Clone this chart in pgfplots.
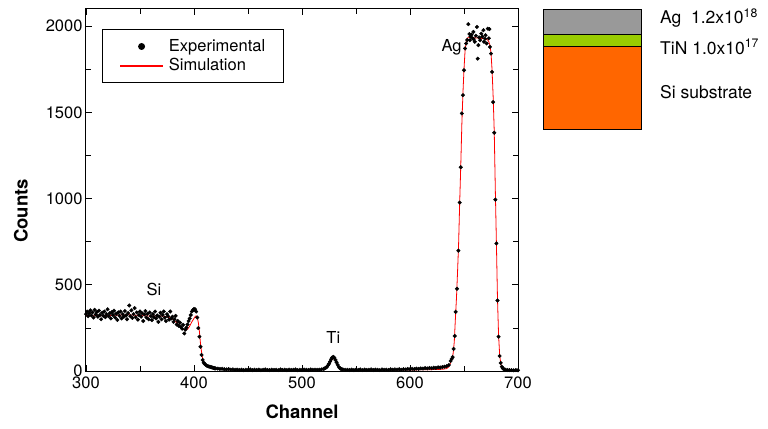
\documentclass[border=0pt]{standalone}
\usepackage{fontspec}
\setmainfont{TeX Gyre Heros}
\usepackage{pgfplots}
\usepackage{pgfplotstable}
\pgfplotsset{compat=1.18}
\definecolor{laygray}{HTML}{999999}
\definecolor{laygreen}{HTML}{99CC00}
\definecolor{layorange}{HTML}{FF6600}
\pgfplotsset{
  explegend/.style={legend image code/.code={\draw[draw=white,line width=0.05bp] (0bp,0bp) -- (42bp,0bp);\fill[black] (21bp,0bp) circle (3.5bp);}},
  simlegend/.style={legend image code/.code={\fill[fill=red] (0bp,-0.5bp) rectangle (42bp,0.5bp);}},
}

\pgfplotstableread{
ch counts
300 330
301 345
302 318
303 335
304 352
305 322
306 340
307 310
308 355
309 328
310 342
311 315
312 350
313 325
314 300
315 338
316 320
317 345
318 312
319 330
320 358
321 318
322 335
323 305
324 342
325 325
326 350
327 310
328 332
329 296
330 340
331 320
332 345
333 305
334 330
335 315
336 348
337 322
338 300
339 336
340 380
341 318
342 352
343 308
344 330
345 365
346 312
347 340
348 298
349 325
350 345
351 315
352 335
353 290
354 328
355 348
356 310
357 332
358 300
359 340
360 318
361 295
362 330
363 312
364 345
365 305
366 322
367 285
368 315
369 338
370 300
371 325
372 345
373 310
374 290
375 330
376 318
377 298
378 345
379 305
380 315
381 285
382 300
383 320
384 270
385 290
386 262
387 280
388 255
389 245
390 268
391 218
392 240
393 252
394 270
395 290
396 305
397 325
398 345
399 354
400 360
401 358
402 345
403 310
404 249
405 199
406 141
407 93
408 64
409 48
410 40
411 35
412 30
413 28
414 25
415 24
416 22
417 20
418 18
419 16
420 15
422 14
424 12
426 13
428 10
430 9
432 11
434 8
436 9
438 7
440 8
442 6
444 8
446 5
448 7
450 6
452 9
454 5
456 7
458 6
460 8
462 5
464 7
466 9
468 6
470 5
472 8
474 6
476 7
478 5
480 9
482 6
484 7
486 5
488 8
490 6
492 7
494 9
496 5
498 7
500 6
502 8
504 7
506 6
508 9
510 7
512 8
514 7
516 8
518 9
520 12
521 15
522 18
523 24
524 32
525 42
526 55
527 68
528 78
529 82
530 76
531 64
532 50
533 36
534 24
535 17
536 12
537 10
538 8
540 7
542 7
544 6
546 8
548 5
550 7
552 6
554 9
556 5
558 8
560 6
562 7
564 9
566 6
568 8
570 7
572 5
574 9
576 7
578 8
580 6
582 10
584 7
586 9
588 8
590 10
592 7
594 11
596 9
598 12
600 10
602 13
604 11
606 14
608 12
610 15
612 14
614 17
616 15
618 18
620 16
622 19
624 18
626 21
628 20
630 23
632 25
634 28
636 35
637.6 58
638.6 70
639.5 81
640.4 128
641.4 203
642.3 343
643.5 477
644.8 698
646 977
647 1182
648 1494
649 1600
650 1745
651 1871
652 1900
653 1920
654 2012
655 1955
655.5 1919
656 1940
657 1951
658 1930
658.7 1967
659 1925
660 1910
661 1945
662 1996
662.7 1812
663.3 1890
664 1935
665 1919
666 1957
667 1940
668 1977
668.5 1910
669.5 1928
670 1948
671 1900
672 1986
673 1930
673.5 1983
674 1880
675 1841
676 1735
677 1560
678 1382
679 994
680 740
681 409
682 199
683 87
684 47
685 25
686 15
687 10
688 8
690 6
692 5
694 5
696 4
698 5
700 4
}\expdata

\pgfplotstableread{
ch counts
300 322
310 320
320 322
330 324
340 326
350 322
360 318
368 320
374 316
378 308
381 298
384 280
387 258
390 242
392 237
394 242
396 260
398 285
400 305
401 315
402 320
403 312
404 282
405 230
406 160
407 110
408 72
409 50
410 38
412 26
415 18
420 12
430 8
440 6
450 5
500 5
515 6
518 8
520 10
522 15
524 26
525 35
526 46
527 58
528 67
529 72
530 70
531 62
532 50
533 38
534 27
535 18
536 13
538 8
540 6
545 5
560 5
600 6
620 8
630 10
634 14
636 25
637 40
638 55
639 70
640 105
641 170
642 300
643 420
644 570
645 735
646 975
647 1190
648 1430
649 1610
650 1750
651 1860
652 1910
653 1932
656 1936
660 1933
665 1930
670 1926
672 1920
673 1910
674 1890
675 1845
676 1745
677 1590
678 1390
679 1050
680 745
681 420
682 210
683 95
684 45
685 22
686 12
688 7
692 5
700 4
}\simdata

\begin{document}
\begin{tikzpicture}
\begin{axis}[
  at={(0bp,0bp)}, anchor=south west,
  scale only axis, width=432bp, height=362bp,
  xmin=300, xmax=700, ymin=0, ymax=2100,
  xtick={300,400,...,700}, minor xtick={350,450,550,650},
  ytick={0,500,...,2000}, minor ytick={250,750,1250,1750},
  tick align=inside,
  major tick length=6bp, minor tick length=5bp,
  every tick/.append style={black, line width=0.8bp},
  axis line style={line width=1bp},
  tick label style={font=\fontsize{16.5bp}{19bp}\selectfont},
  xticklabel style={yshift=-2bp},
  /pgf/number format/assume math mode=true,
  /pgf/number format/set thousands separator={},
  xlabel={Channel}, ylabel={Counts},
  every axis x label/.style={at={(axis description cs:0.5,-0.113)},anchor=center,font=\fontsize{18.5bp}{22bp}\selectfont\bfseries},
  every axis y label/.style={at={(axis description cs:-0.1505,0.442)},anchor=center,rotate=90,font=\fontsize{18.5bp}{22bp}\selectfont\bfseries},
  legend style={at={(axis description cs:0.0363,0.9448)}, anchor=north west,
    draw=black, line width=1bp, font=\fontsize{16.5bp}{19bp}\selectfont,
    inner xsep=18bp, inner ysep=10bp, row sep=5bp, column sep=6bp,
    nodes={inner sep=0bp, text depth=0.2em}},
  legend cell align=left,
]
\addplot[draw=none, only marks, mark=*, mark size=1.8bp,
  mark options={solid, draw=black, fill=black}, explegend]
  table[x=ch,y=counts] {\expdata};
\addlegendentry{Experimental}
\addplot[red, line width=0.8bp, no marks, simlegend]
  table[x=ch,y=counts] {\simdata};
\addlegendentry{Simulation}
\node[font=\fontsize{16.5bp}{19bp}\selectfont] at (axis cs:363,470) {Si};
\node[font=\fontsize{16.5bp}{19bp}\selectfont] at (axis cs:529,197) {Ti};
\node[font=\fontsize{16.5bp}{19bp}\selectfont] at (axis cs:638.5,1878) {Ag};
\end{axis}
% layer schematic
\fill[laygray] (457bp,336.7bp) rectangle (555bp,361.7bp);
\fill[laygreen] (457bp,324.3bp) rectangle (555bp,336.7bp);
\fill[layorange] (457bp,241.7bp) rectangle (555bp,324.3bp);
\draw[line width=1bp] (457bp,241.7bp) rectangle (555bp,361.7bp);
\draw[line width=1bp] (457bp,336.7bp) -- (555bp,336.7bp);
\draw[line width=1bp] (457bp,324.3bp) -- (555bp,324.3bp);
\node[anchor=west, inner sep=0pt, font=\fontsize{17.5bp}{20bp}\selectfont] at (574bp,352.7bp) {Ag\ \ 1.2x10\textsuperscript{18}};
\node[anchor=west, inner sep=0pt, font=\fontsize{17.5bp}{20bp}\selectfont] at (574bp,324.3bp) {TiN 1.0x10\textsuperscript{17}};
\node[anchor=west, inner sep=0pt, font=\fontsize{17.5bp}{20bp}\selectfont] at (574bp,279.3bp) {Si substrate};
\pgfresetboundingbox
\path (-86bp,-58bp) rectangle (682bp,371bp);
\end{tikzpicture}
\end{document}
